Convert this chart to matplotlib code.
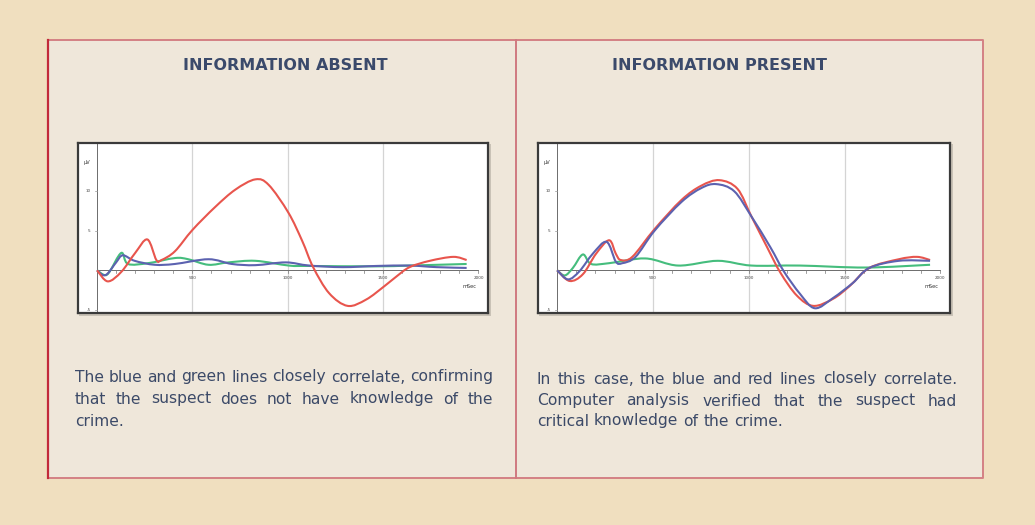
import matplotlib
matplotlib.use("Agg")
import matplotlib.pyplot as plt
from matplotlib.path import Path
from matplotlib.patches import PathPatch, Rectangle
import numpy as np

W, H = 1035, 525

# --- data (ms, microvolts) ---
left_red_ms = [0, 56, 127, 200, 264, 311, 338, 408, 500, 619, 725, 830, 900, 1003, 1076, 1133, 1217, 1314, 1411, 1507, 1569, 1639, 1745, 1868, 1938]
left_red_uv = [0, -1.4, -0.2, 2.2, 3.9, 1.3, 1.3, 2.4, 5.1, 8.0, 10.2, 11.5, 10.8, 7.3, 3.7, 0.4, -2.9, -4.5, -3.7, -2.0, -0.8, 0.4, 1.2, 1.7, 1.3]

left_green_ms = [0, 39, 65, 127, 162, 267, 408, 478, 584, 689, 830, 1006, 1112, 1464, 1639, 1938]
left_green_uv = [0, -0.6, -0.2, 2.2, 0.8, 0.9, 1.55, 1.4, 0.7, 1.0, 1.2, 0.6, 0.55, 0.5, 0.6, 0.8]

left_blue_ms = [0, 30, 56, 100, 135, 197, 302, 408, 584, 707, 830, 989, 1112, 1288, 1464, 1639, 1780, 1938]
left_blue_uv = [0, -0.6, -0.4, 1.0, 1.9, 1.2, 0.7, 0.8, 1.4, 0.8, 0.65, 1.0, 0.6, 0.4, 0.55, 0.6, 0.4, 0.3]

right_red_ms = [0, 65, 134, 203, 271, 306, 332, 392, 508, 649, 752, 847, 941, 1014, 1096, 1165, 1251, 1337, 1440, 1526, 1629, 1783, 1878, 1946]
right_red_uv = [0, -1.35, -0.5, 2.1, 3.8, 2.1, 1.3, 1.7, 5.2, 8.9, 10.7, 11.4, 10.3, 6.8, 2.9, -0.3, -3.2, -4.5, -3.6, -2.0, 0.3, 1.4, 1.7, 1.3]

right_blue_ms = [0, 57, 117, 186, 258, 306, 340, 409, 508, 649, 752, 830, 924, 1014, 1113, 1182, 1268, 1345, 1440, 1543, 1629, 1783, 1946]
right_blue_uv = [0, -1.15, -0.1, 2.1, 3.6, 1.1, 0.9, 1.7, 5.0, 8.65, 10.4, 10.9, 10.0, 6.8, 2.9, -0.1, -3.0, -4.8, -3.5, -1.6, 0.3, 1.2, 1.2]

right_green_ms = [0, 40, 82, 134, 177, 271, 460, 632, 838, 1014, 1268, 1611, 1946]
right_green_uv = [0, -0.65, 0.3, 2.0, 0.8, 0.9, 1.5, 0.6, 1.2, 0.6, 0.6, 0.35, 0.7]

x_ticks = [500, 1000, 1500, 2000]
y_ticks = [10, 5, -5]

titles = ["INFORMATION ABSENT", "INFORMATION PRESENT"]
paragraphs = [
    ["The blue and green lines closely correlate, confirming",
     "that the suspect does not have knowledge of the",
     "crime."],
    ["In this case, the blue and red lines closely correlate.",
     "Computer analysis verified that the suspect had",
     "critical knowledge of the crime."],
]

RED = "#e8554d"
BLUE = "#5c62b0"
GREEN = "#45bd7d"
TEXT = "#3c4a68"


def smooth_path(xs, ys):
    # catmull-rom through the points, drawn as cubic bezier segments
    p = np.column_stack([xs, ys]).astype(float)
    verts = [p[0]]
    codes = [Path.MOVETO]
    for i in range(len(p) - 1):
        p0 = p[i - 1] if i > 0 else p[i]
        p1, p2 = p[i], p[i + 1]
        p3 = p[i + 2] if i + 2 < len(p) else p[i + 1]
        verts += [p1 + (p2 - p0) / 6, p2 - (p3 - p1) / 6, p2]
        codes += [Path.CURVE4] * 3
    return Path(verts, codes)


fig = plt.figure(figsize=(W / 100, H / 100), dpi=100)
fig.patch.set_facecolor("#f0dfbf")

bg = fig.add_axes([0, 0, 1, 1])
bg.set_xlim(0, W)
bg.set_ylim(H, 0)
bg.axis("off")

bg.add_patch(Rectangle((48, 40), 935, 438, facecolor="#efe7da", edgecolor="none"))
bg.plot([48, 983, 983, 48], [40, 40, 478, 478], color="#d48184", lw=1.4)
bg.plot([48, 48], [40, 478], color="#c22a3a", lw=1.6)
bg.plot([516, 516], [40, 478], color="#d07a80", lw=1.4)

title_x = [285, 720]
for tx, t in zip(title_x, titles):
    bg.text(tx, 66, t, ha="center", va="center", fontsize=11.5, fontweight="bold",
            color="#3b4a6b", family="DejaVu Sans")

# justified paragraphs; font size picked so the first lines roughly fill their width
fig.canvas.draw()
renderer = fig.canvas.get_renderer()
fits = []
for lines in paragraphs:
    probe = bg.text(0, 0, lines[0], fontsize=10)
    fits.append(10 * 412 / probe.get_window_extent(renderer).width)
    probe.remove()
body_size = sum(fits) / len(fits)

para_x = [(75, 493), (537, 957)]
para_y = [(377, 399, 421), (379, 401, 421)]
for (x0, x1), ys, lines in zip(para_x, para_y, paragraphs):
    for k, (line, y) in enumerate(zip(lines, ys)):
        words = line.split(" ")
        arts = [bg.text(0, y, w, ha="left", va="center", fontsize=body_size, color=TEXT)
                for w in words]
        widths = [a.get_window_extent(renderer).width for a in arts]
        space = body_size * 0.32 * 100 / 72
        if k < len(lines) - 1 and len(words) > 1:
            space = (x1 - x0 - sum(widths)) / (len(words) - 1)
        x = x0
        for a, w in zip(arts, widths):
            a.set_x(x)
            x += w + space

chart_boxes = [(78, 143, 488, 313), (538, 143, 950, 313)]
series = [
    [(left_green_ms, left_green_uv, GREEN), (left_blue_ms, left_blue_uv, BLUE), (left_red_ms, left_red_uv, RED)],
    [(right_green_ms, right_green_uv, GREEN), (right_red_ms, right_red_uv, RED), (right_blue_ms, right_blue_uv, BLUE)],
]

for (cx0, cy0, cx1, cy1), lines in zip(chart_boxes, series):
    # shadow behind the chart picture
    bg.add_patch(Rectangle((cx0 + 1, cy0 + 1), cx1 - cx0 + 2, cy1 - cy0 + 2,
                           facecolor="#c9c2b6", edgecolor="none"))
    ax = fig.add_axes([cx0 / W, 1 - cy1 / H, (cx1 - cx0) / W, (cy1 - cy0) / H])
    ax.set_facecolor("white")
    ax.set_xlim(-100, 2050)
    ax.set_ylim(-5.4, 16.1)
    for s in ax.spines.values():
        s.set_color("#3a3a3a")
        s.set_linewidth(1.6)
    ax.set_xticks([])
    ax.set_yticks([])

    for gx in [500, 1000, 1500]:
        ax.axvline(gx, color="#d4d4d4", lw=0.9, zorder=1)
    ax.axvline(0, color="#555555", lw=0.6, zorder=2)
    ax.plot([0, 2000], [0, 0], color="#555555", lw=0.6, zorder=2)
    for mx in range(100, 2001, 100):
        ax.plot([mx, mx], [0, -0.35], color="#777777", lw=0.5, zorder=2)
    for gx in x_ticks:
        ax.text(gx, -0.75, str(gx), ha="center", va="top", fontsize=3, color="#444444")
    for gy in y_ticks:
        ax.plot([0, -12], [gy, gy], color="#999999", lw=0.5)
        ax.text(-45, gy, str(gy), ha="center", va="center", fontsize=3, color="#444444")
    ax.text(-55, 13.6, "µV", ha="center", va="center", fontsize=3.6, color="#333333")
    ax.text(1955, -2.0, "mSec", ha="center", va="center", fontsize=3.6, color="#333333")

    for xs, ys, c in lines:
        ax.add_patch(PathPatch(smooth_path(xs, ys), fill=False, edgecolor=c, lw=1.5, zorder=3))

fig.savefig("out.png", dpi=100, facecolor=fig.get_facecolor())
